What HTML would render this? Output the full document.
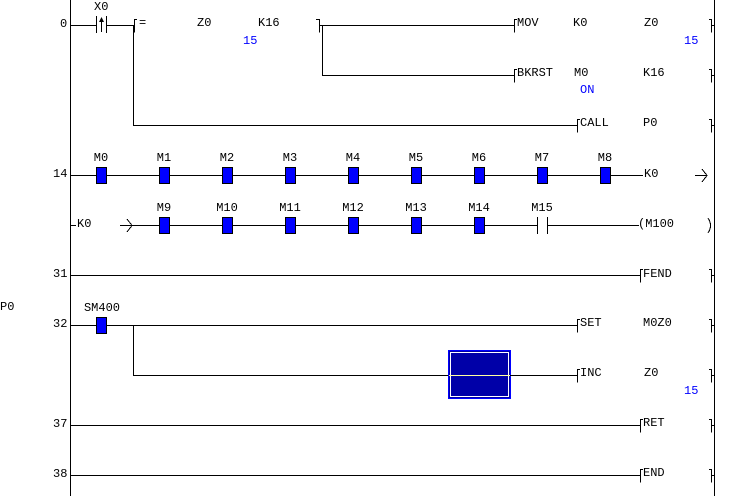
<!DOCTYPE html>
<html><head><style>
html,body{margin:0;padding:0;background:#fff;}
svg{display:block;}
text{font-family:"Liberation Mono",monospace;font-size:12px;fill:#000;}
.b{fill:#0000ff;}
</style></head><body>
<svg width="730" height="496" xmlns="http://www.w3.org/2000/svg">
<g stroke="#000" stroke-width="1" fill="none" shape-rendering="crispEdges">
<!-- rails -->
<line x1="70.5" y1="0" x2="70.5" y2="496"/>
<line x1="714.5" y1="0" x2="714.5" y2="496"/>
<!-- row 0 -->
<line x1="70" y1="25.5" x2="96" y2="25.5"/>
<line x1="96.5" y1="16" x2="96.5" y2="33"/>
<line x1="106.5" y1="16" x2="106.5" y2="33"/>
<line x1="101.5" y1="20" x2="101.5" y2="32"/>
<line x1="106" y1="25.5" x2="134" y2="25.5"/>
<line x1="133.5" y1="25" x2="133.5" y2="126"/>
<line x1="133" y1="125.5" x2="577" y2="125.5"/>
<line x1="320" y1="25.5" x2="514" y2="25.5"/>
<line x1="322.5" y1="25" x2="322.5" y2="76"/>
<line x1="322" y1="75.5" x2="514" y2="75.5"/>
<!-- row 14 -->
<line x1="70" y1="175.5" x2="643" y2="175.5"/>
<line x1="695" y1="175.5" x2="707" y2="175.5"/>
<!-- row 2nd -->
<line x1="70" y1="225.5" x2="76" y2="225.5"/>
<line x1="120" y1="225.5" x2="537" y2="225.5"/>
<line x1="537.5" y1="217" x2="537.5" y2="234"/>
<line x1="547.5" y1="217" x2="547.5" y2="234"/>
<line x1="547" y1="225.5" x2="639" y2="225.5"/>
<!-- fend -->
<line x1="70" y1="275.5" x2="640" y2="275.5"/>
<!-- row 32 -->
<line x1="70" y1="325.5" x2="577" y2="325.5"/>
<line x1="133.5" y1="325" x2="133.5" y2="376"/>
<line x1="133" y1="375.5" x2="577" y2="375.5"/>
<line x1="70" y1="425.5" x2="640" y2="425.5"/>
<line x1="70" y1="475.5" x2="640" y2="475.5"/>
<!-- left brackets -->
<path d="M137 19.5H134.5V32.5"/>
<path d="M517 19.5H514.5V32.5"/>
<path d="M517 69.5H514.5V82.5"/>
<path d="M580 119.5H577.5V132.5"/>
<path d="M643 269.5H640.5V282.5"/>
<path d="M580 319.5H577.5V332.5"/>
<path d="M580 369.5H577.5V382.5"/>
<path d="M643 419.5H640.5V432.5"/>
<path d="M643 469.5H640.5V482.5"/>
<!-- right brackets -->
<path d="M316 19.5H319.5V32.5"/>
<path d="M709 19.5H711.5V32.5M711 25.5H714"/>
<path d="M709 69.5H711.5V82.5M711 75.5H714"/>
<path d="M709 119.5H711.5V132.5M711 125.5H714"/>
<path d="M709 269.5H711.5V282.5M711 275.5H714"/>
<path d="M709 319.5H711.5V332.5M711 325.5H714"/>
<path d="M709 369.5H711.5V382.5M711 375.5H714"/>
<path d="M709 419.5H711.5V432.5M711 425.5H714"/>
<path d="M709 469.5H711.5V482.5M711 475.5H714"/>
<!-- arrows -->
<path d="M702 169L707 175.5L702 182"/>
<path d="M127 219L132 225.5L127 232"/>
<path d="M708 218Q713 225.5 708 233"/>
</g>
<polygon points="101.5,17 99,22 104,22" fill="#000"/>
<g fill="#0000ff" stroke="#000" stroke-width="1" shape-rendering="crispEdges">
<rect x="96.5" y="167.5" width="10" height="16"/>
<rect x="159.5" y="167.5" width="10" height="16"/>
<rect x="222.5" y="167.5" width="10" height="16"/>
<rect x="285.5" y="167.5" width="10" height="16"/>
<rect x="348.5" y="167.5" width="10" height="16"/>
<rect x="411.5" y="167.5" width="10" height="16"/>
<rect x="474.5" y="167.5" width="10" height="16"/>
<rect x="537.5" y="167.5" width="10" height="16"/>
<rect x="600.5" y="167.5" width="10" height="16"/>
<rect x="159.5" y="217.5" width="10" height="16"/>
<rect x="222.5" y="217.5" width="10" height="16"/>
<rect x="285.5" y="217.5" width="10" height="16"/>
<rect x="348.5" y="217.5" width="10" height="16"/>
<rect x="411.5" y="217.5" width="10" height="16"/>
<rect x="474.5" y="217.5" width="10" height="16"/>
<rect x="96.5" y="317.5" width="10" height="16"/>
</g>
<rect x="448.5" y="350.5" width="62" height="48" fill="#0000a8" stroke="#0000ff"/>
<rect x="450.5" y="352.5" width="58" height="44" fill="none" stroke="#fff"/>
<line x1="449" y1="375.5" x2="510" y2="375.5" stroke="#ffffa0"/>
<line x1="510" y1="375.5" x2="511" y2="375.5" stroke="#000"/>
<!-- text -->
<text x="60" y="27">0</text>
<text x="53" y="177">14</text>
<text x="53" y="277">31</text>
<text x="53" y="327">32</text>
<text x="53" y="427">37</text>
<text x="53" y="477">38</text>
<text x="0" y="310">P0</text>
<text x="94" y="10">X0</text>
<text x="139" y="26">=</text>
<text x="197" y="26">Z0</text>
<text x="258" y="26">K16</text>
<text x="243" y="44" class="b">15</text>
<text x="517" y="26">MOV</text>
<text x="573" y="26">K0</text>
<text x="644" y="26">Z0</text>
<text x="684" y="44" class="b">15</text>
<text x="517" y="76">BKRST</text>
<text x="574" y="76">M0</text>
<text x="643" y="76">K16</text>
<text x="580" y="93" class="b">ON</text>
<text x="580" y="126">CALL</text>
<text x="643" y="126">P0</text>
<g text-anchor="middle">
<text x="101" y="161">M0</text><text x="164" y="161">M1</text><text x="227" y="161">M2</text>
<text x="290" y="161">M3</text><text x="353" y="161">M4</text><text x="416" y="161">M5</text>
<text x="479" y="161">M6</text><text x="542" y="161">M7</text><text x="605" y="161">M8</text>
<text x="164" y="211">M9</text><text x="227" y="211">M10</text><text x="290" y="211">M11</text>
<text x="353" y="211">M12</text><text x="416" y="211">M13</text><text x="479" y="211">M14</text>
<text x="542" y="211">M15</text>
<text x="102" y="311">SM400</text>
</g>
<text x="644" y="177">K0</text>
<text x="77" y="227">K0</text>
<text x="638" y="227">(M100</text>
<text x="643" y="277">FEND</text>
<text x="580" y="326">SET</text>
<text x="643" y="326">M0Z0</text>
<text x="580" y="376">INC</text>
<text x="644" y="376">Z0</text>
<text x="684" y="394" class="b">15</text>
<text x="643" y="426">RET</text>
<text x="643" y="476">END</text>
</svg>
</body></html>
